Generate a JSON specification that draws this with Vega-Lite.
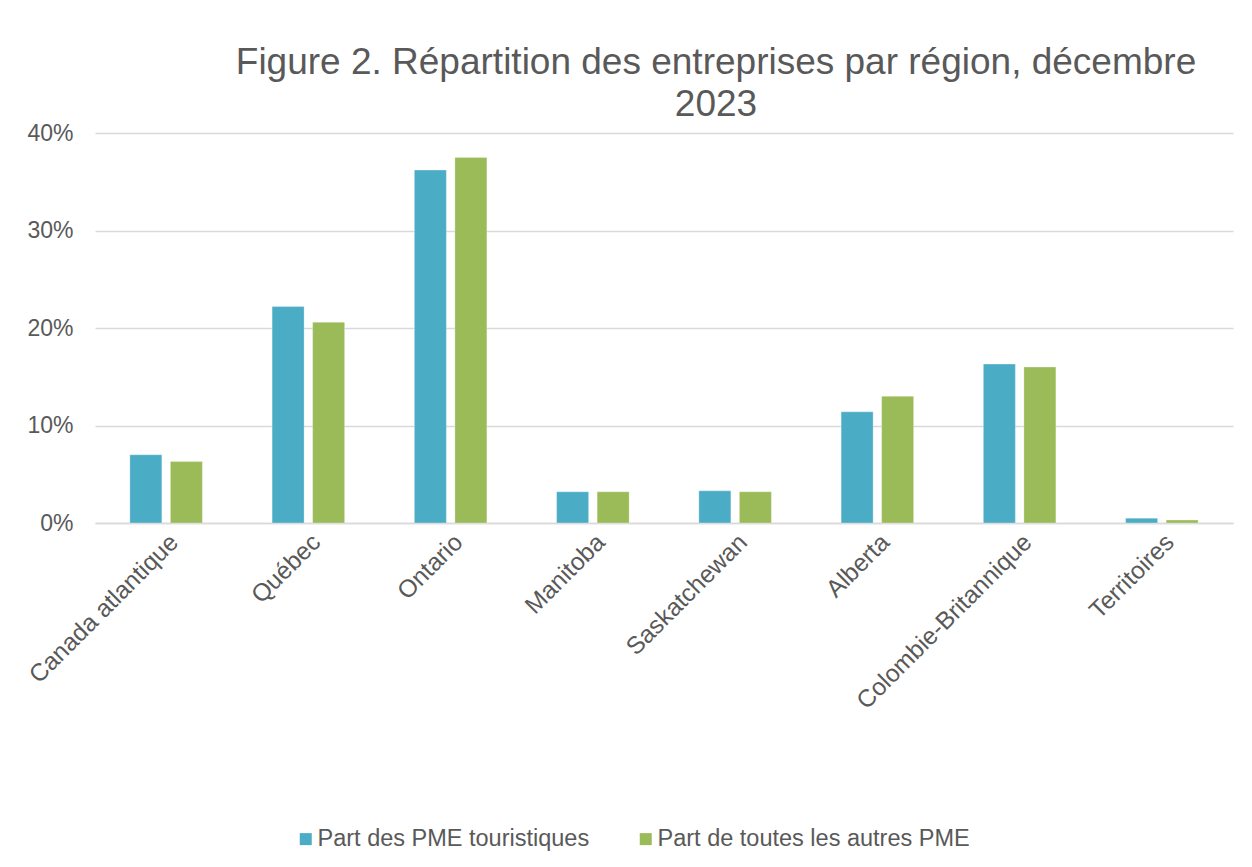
{
  "$schema": "https://vega.github.io/schema/vega-lite/v6.json",
  "width": 1138,
  "height": 390,
  "autosize": {"type": "none"},
  "padding": {"left": 95, "top": 133, "right": 19, "bottom": 344},
  "background": "white",
  "title": {
    "text": ["Figure 2. Répartition des entreprises par région, décembre", "2023"],
    "font": "Liberation Sans",
    "fontSize": 37,
    "fontWeight": "normal",
    "color": "#595959",
    "anchor": "middle",
    "frame": "group",
    "dx": 52,
    "offset": -2,
    "lineHeight": 42
  },
  "data": {
    "values": [
      {"region": "Canada atlantique", "serie": "Part des PME touristiques", "part": 0.070},
      {"region": "Canada atlantique", "serie": "Part de toutes les autres PME", "part": 0.063},
      {"region": "Québec", "serie": "Part des PME touristiques", "part": 0.222},
      {"region": "Québec", "serie": "Part de toutes les autres PME", "part": 0.206},
      {"region": "Ontario", "serie": "Part des PME touristiques", "part": 0.362},
      {"region": "Ontario", "serie": "Part de toutes les autres PME", "part": 0.375},
      {"region": "Manitoba", "serie": "Part des PME touristiques", "part": 0.032},
      {"region": "Manitoba", "serie": "Part de toutes les autres PME", "part": 0.032},
      {"region": "Saskatchewan", "serie": "Part des PME touristiques", "part": 0.033},
      {"region": "Saskatchewan", "serie": "Part de toutes les autres PME", "part": 0.032},
      {"region": "Alberta", "serie": "Part des PME touristiques", "part": 0.114},
      {"region": "Alberta", "serie": "Part de toutes les autres PME", "part": 0.130},
      {"region": "Colombie-Britannique", "serie": "Part des PME touristiques", "part": 0.163},
      {"region": "Colombie-Britannique", "serie": "Part de toutes les autres PME", "part": 0.160},
      {"region": "Territoires", "serie": "Part des PME touristiques", "part": 0.005},
      {"region": "Territoires", "serie": "Part de toutes les autres PME", "part": 0.003}
    ]
  },
  "mark": {"type": "bar", "stroke": "white", "strokeOpacity": 0.3, "strokeWidth": 1},
  "encoding": {
    "x": {
      "field": "region",
      "type": "nominal",
      "sort": null,
      "title": null,
      "scale": {"paddingInner": 0.49, "paddingOuter": 0.245},
      "axis": {
        "labelAngle": -45,
        "labelAlign": "right",
        "labelBaseline": "top",
        "labelFont": "Liberation Sans",
        "labelFontSize": 24.5,
        "labelColor": "#595959",
        "labelPadding": 7,
        "labelLimit": 500,
        "ticks": false,
        "domainColor": "#d9d9d9",
        "domainWidth": 1.5,
        "grid": false
      }
    },
    "xOffset": {
      "field": "serie",
      "type": "nominal",
      "sort": ["Part des PME touristiques", "Part de toutes les autres PME"],
      "scale": {"paddingInner": 0.21, "paddingOuter": 0}
    },
    "y": {
      "field": "part",
      "type": "quantitative",
      "title": null,
      "scale": {"domain": [0, 0.4]},
      "axis": {
        "format": ".0%",
        "values": [0, 0.1, 0.2, 0.3, 0.4],
        "labelFont": "Liberation Sans",
        "labelFontSize": 23,
        "labelColor": "#595959",
        "labelPadding": 22,
        "ticks": false,
        "domain": false,
        "gridColor": "#d9d9d9",
        "gridWidth": 1.5
      }
    },
    "color": {
      "field": "serie",
      "type": "nominal",
      "sort": ["Part des PME touristiques", "Part de toutes les autres PME"],
      "scale": {"range": ["#4BACC6", "#9BBB59"]},
      "legend": {
        "title": null,
        "orient": "none",
        "legendX": 199,
        "legendY": 694,
        "direction": "horizontal",
        "columns": 2,
        "columnPadding": 44,
        "symbolType": "square",
        "symbolSize": 144,
        "symbolStrokeWidth": 0,
        "labelFont": "Liberation Sans",
        "labelFontSize": 23.5,
        "labelColor": "#595959",
        "labelOffset": 0,
        "labelLimit": 500
      }
    }
  },
  "config": {"view": {"stroke": null}}
}
